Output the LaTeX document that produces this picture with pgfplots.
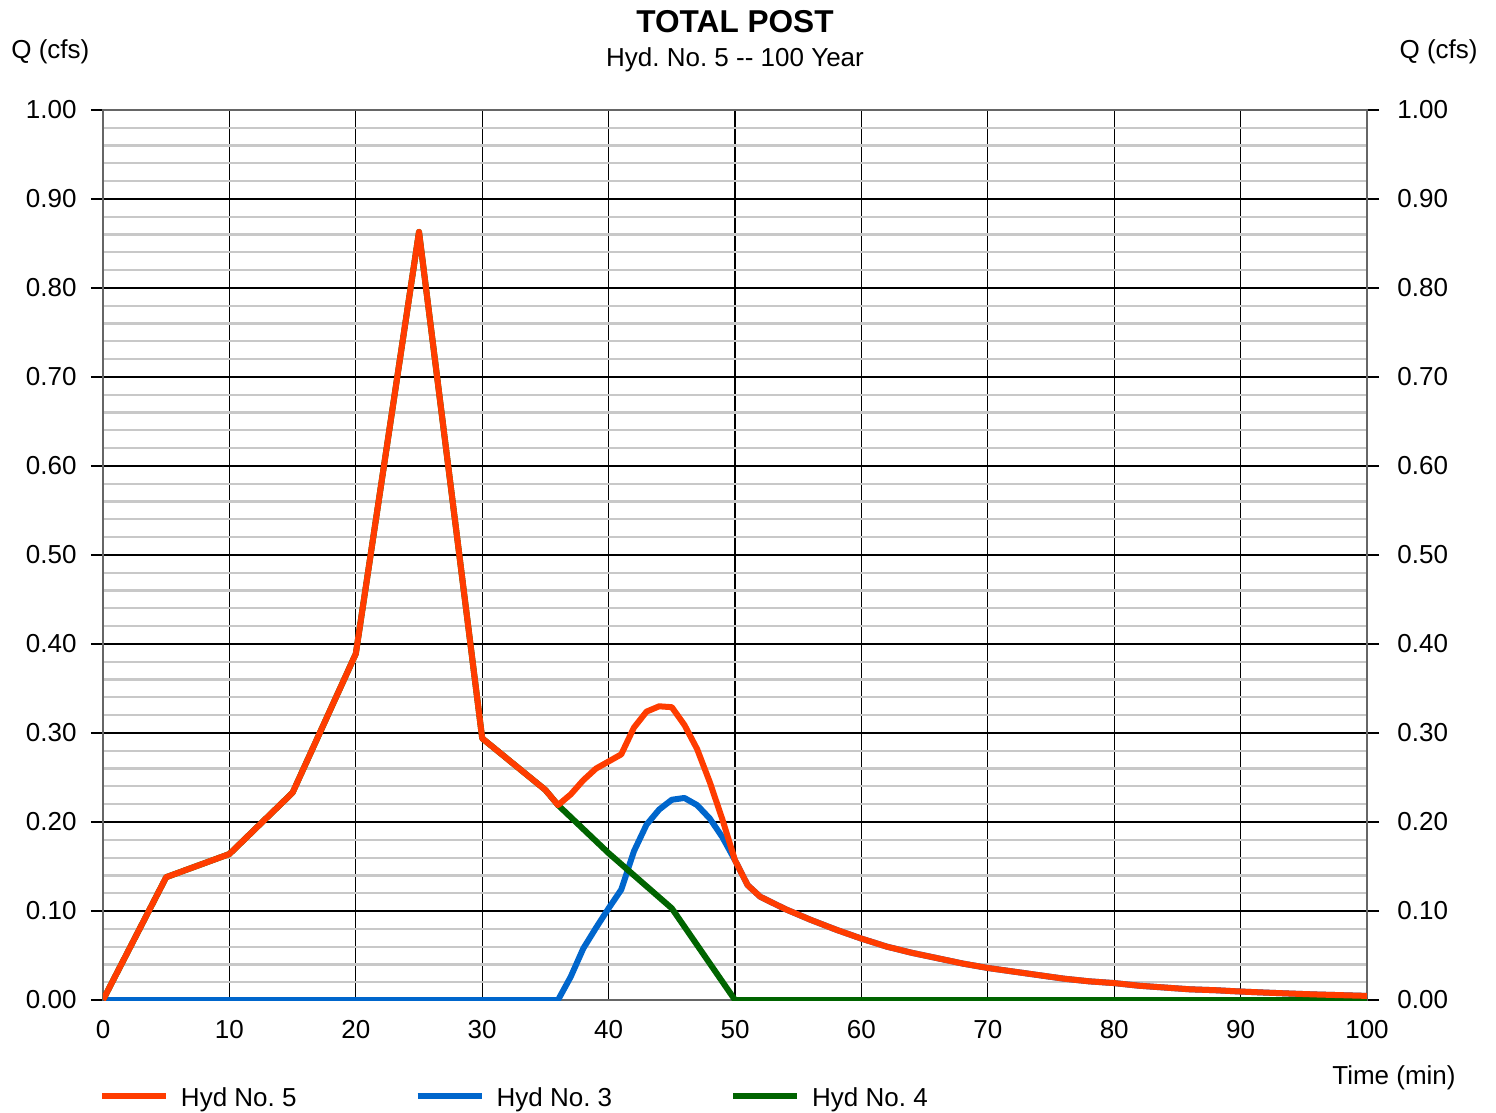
\documentclass[border=0pt]{standalone}
\usepackage{fontspec}
\setmainfont{Liberation Sans}
\usepackage{pgfplots}
\pgfplotsset{compat=1.18}
\frenchspacing
\definecolor{hydred}{RGB}{255,60,0}
\definecolor{hydblue}{RGB}{0,102,204}
\definecolor{hydgreen}{RGB}{0,100,0}
\definecolor{minorgray}{RGB}{200,200,200}
\newcommand{\lbl}{\fontsize{13pt}{15pt}\selectfont\frenchspacing}

\pgfplotstableread{
t q
0 0
5 0.138
10 0.164
15 0.233
20 0.389
25 0.863
30 0.294
35 0.236
36 0.219
37 0.231
38 0.247
39 0.260
40 0.268
41 0.276
42 0.306
43 0.324
44 0.330
45 0.329
46 0.309
47 0.282
48 0.245
49 0.203
50 0.157
51 0.129
52 0.116
54 0.102
56 0.090
58 0.079
60 0.069
62 0.060
64 0.053
66 0.047
68 0.041
70 0.036
72 0.032
74 0.028
76 0.024
78 0.021
80 0.019
82 0.016
84 0.014
86 0.012
88 0.011
90 0.0095
92 0.0083
94 0.0072
96 0.0062
98 0.0054
100 0.0046
}\hydfive

\pgfplotstableread{
t q
0 0
36 0
37 0.026
38 0.058
39 0.081
40 0.103
41 0.124
42 0.167
43 0.197
44 0.214
45 0.225
46 0.227
47 0.219
48 0.204
49 0.183
50 0.157
51 0.129
52 0.116
54 0.102
56 0.090
58 0.079
60 0.069
62 0.060
64 0.053
66 0.047
68 0.041
70 0.036
72 0.032
74 0.028
76 0.024
78 0.021
80 0.019
82 0.016
84 0.014
86 0.012
88 0.011
90 0.0095
92 0.0083
94 0.0072
96 0.0062
98 0.0054
100 0.0046
}\hydthree

\pgfplotstableread{
t q
0 0
5 0.138
10 0.164
15 0.233
20 0.389
25 0.863
30 0.294
35 0.236
36 0.219
40 0.165
45 0.103
50 0
100 0
}\hydfour

\begin{document}
\begin{tikzpicture}
\begin{axis}[
  name=main,
  scale only axis, width=632pt, height=445pt,
  xmin=0, xmax=100, ymin=0, ymax=1,
  xtick={0,10,...,100},
  ytick={0,0.1,0.2,0.3,0.4,0.5,0.6,0.7,0.8,0.9,1},
  minor y tick num=4,
  xmajorgrids, ymajorgrids, yminorgrids,
  major grid style={black, line width=0.6pt},
  minor grid style={minorgray, line width=1.1pt},
  axis line style={draw=black!60, line width=1pt},
  tick align=outside, major tick length=6pt, minor tick length=0pt,
  ytick pos=both, yticklabel pos=left,
  xtick style={draw=none},
  ytick style={black, line width=0.6pt},
  /pgf/number format/assume math mode=true,
  yticklabel style={font=\lbl, inner sep=0pt, xshift=-7pt,
    /pgf/number format/.cd, fixed, fixed zerofill, precision=2},
  xticklabel style={font=\lbl, inner sep=0pt, yshift=-4pt},
  legend columns=3,
  legend cell align=left,
  legend style={at={(0,0)}, anchor=north west, yshift=-44pt, xshift=-2pt, draw=none, fill=none,
    inner sep=0pt, outer sep=0pt, font=\lbl, nodes={inner sep=0pt},
    /tikz/every odd column/.append style={column sep=6pt},
    /tikz/every even column/.append style={column sep=59pt}},
  legend image code/.code={\draw[#1] (0pt,1.5pt) -- (32pt,1.5pt);},
]
\addlegendimage{hydred, line width=3pt}
\addlegendentry{Hyd No. 5}
\addlegendimage{hydblue, line width=3pt}
\addlegendentry{Hyd No. 3}
\addlegendimage{hydgreen, line width=3pt}
\addlegendentry{Hyd No. 4}
\addplot[hydblue, line width=3pt, line join=round, forget plot] table[x=t,y=q] {\hydthree};
\addplot[hydgreen, line width=3pt, line join=round, forget plot] table[x=t,y=q] {\hydfour};
\addplot[hydred, line width=3pt, line join=round, forget plot] table[x=t,y=q] {\hydfive};
\coordinate (SW) at (rel axis cs:0,0);
\coordinate (NE) at (rel axis cs:1,1);
\coordinate (NW) at (rel axis cs:0,1);
\coordinate (SE) at (rel axis cs:1,0);
\coordinate (N) at (rel axis cs:0.5,1);
\end{axis}
\begin{axis}[
  scale only axis, width=632pt, height=445pt,
  xmin=0, xmax=100, ymin=0, ymax=1,
  hide x axis, axis y line*=right,
  axis line style={draw=none},
  ytick={0,0.1,0.2,0.3,0.4,0.5,0.6,0.7,0.8,0.9,1},
  major tick length=0pt, tick style={draw=none},
  /pgf/number format/assume math mode=true,
  yticklabel style={font=\lbl, inner sep=0pt, anchor=west, xshift=15pt,
    /pgf/number format/.cd, fixed, fixed zerofill, precision=2},
]
\addplot[draw=none, forget plot] coordinates {(0,0)};
\end{axis}
\node[anchor=base, inner sep=0pt, font=\bfseries\fontsize{15.8pt}{19pt}\selectfont] at ([yshift=38.5pt]N) {TOTAL POST};
\node[anchor=base, inner sep=0pt, font=\lbl] at ([yshift=21.5pt]N) {Hyd. No. 5 {-}{-} 100 Year};
\node[anchor=base west, inner sep=0pt, font=\lbl] at ([xshift=-46pt,yshift=25.5pt]NW) {Q (cfs)};
\node[anchor=base east, inner sep=0pt, font=\lbl] at ([xshift=55.5pt,yshift=25.5pt]NE) {Q (cfs)};
\node[anchor=base east, inner sep=0pt, font=\lbl] at ([xshift=44.5pt,yshift=-42pt]SE) {Time (min)};
\pgfresetboundingbox
\path[use as bounding box] ([xshift=-51.5pt,yshift=-56pt]SW) rectangle ([xshift=64.5pt,yshift=55pt]NE);
\end{tikzpicture}
\end{document}
